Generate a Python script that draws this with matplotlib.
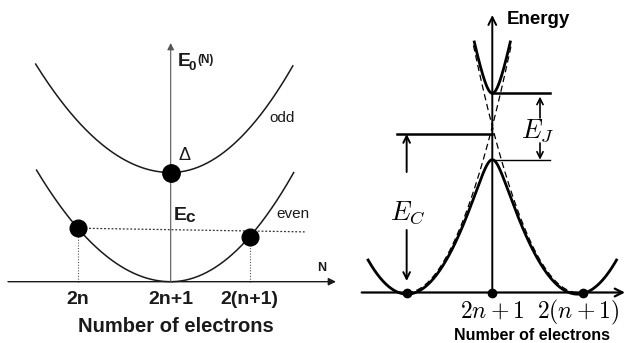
"""Charging-energy parabolas: even/odd ground states (left) and Josephson-split bands (right)."""

import numpy as np
import matplotlib.pyplot as plt

W_PX, H_PX = 626, 343

# ---- left panel: E0(N) parabolas, x in electrons from 2n+1, y in units of E_c
LEFT_TICKS = [-1.08, 0.0, 0.92]
LEFT_TICK_LABELS = ["2n", "2n+1", "2(n+1)"]
EVEN_VERTEX = 0.0
ODD_VERTEX = 2.06                 # Delta above the even minimum
EVEN_CURV = [0.865, 1.007]        # left / right curvature as drawn
ODD_CURV = [0.83, 0.998]
EVEN_RANGE = [-1.56, 1.43]
ODD_RANGE = [-1.57, 1.42]
EC_GUIDE_X = [-1.08, 1.56]
EC_GUIDE_Y = [1.01, 0.94]

# ---- right panel: x in electrons from 2n+1, y in units of E_C
RIGHT_TICKS = [0.0, 1.0]
RIGHT_TICK_LABELS = [r"$2n+1$", r"$2(n+1)$"]
RIGHT_DOTS = [-1.0, 0.0, 1.06]
PARABOLA_CENTERS = [-1.0, 1.0]
E_C = 1.0
E_J = 0.4
EC_LEVEL = 0.955
LOWER_RANGE = [-1.45, 1.45]
UPPER_RANGE = [-0.21, 0.21]


def px_to_data_left(px, py):
    return (px - 170.7) / 86.0, (281.7 - py) / 53.0


def px_to_data_right(px, py):
    return (px - 492.3) / 85.65, (292.5 - py) / 166.0


def half_parabola(x, vertex, curv):
    c = np.where(x < 0, curv[0], curv[1])
    return vertex + c * x ** 2


def arrow(ax, start, tip, style, lw, scale, color="black"):
    ax.annotate("", xy=tip, xytext=start,
                arrowprops=dict(arrowstyle=style, lw=lw, color=color,
                                mutation_scale=scale, shrinkA=0, shrinkB=0))


fig = plt.figure(figsize=(W_PX / 100, H_PX / 100), dpi=100)

# ------------------------------------------------------------------ left
axl = fig.add_axes([0, 0, 340 / W_PX, 1])
x0, y0 = px_to_data_left(0, H_PX)
x1, y1 = px_to_data_left(340, 0)
axl.set_xlim(x0, x1)
axl.set_ylim(y0, y1)
axl.axis("off")

ink = "#1a1a1a"
sans = "Liberation Sans"

# axes
arrow(axl, (px_to_data_left(8, 0)[0], 0), (px_to_data_left(336, 0)[0], 0), "-|>", 1.0, 11, ink)
arrow(axl, (0, 0), (0, px_to_data_left(0, 43)[1]), "-|>", 0.8, 10, "#555555")

xe = np.linspace(EVEN_RANGE[0], EVEN_RANGE[1], 300)
axl.plot(xe, half_parabola(xe, EVEN_VERTEX, EVEN_CURV), color=ink, lw=1.1)
xo = np.linspace(ODD_RANGE[0], ODD_RANGE[1], 300)
axl.plot(xo, half_parabola(xo, ODD_VERTEX, ODD_CURV), color=ink, lw=1.1)

# dotted guides
dot_x = [LEFT_TICKS[0], LEFT_TICKS[2]]
dot_y = list(half_parabola(np.array(dot_x), EVEN_VERTEX, EVEN_CURV))
axl.plot(EC_GUIDE_X, EC_GUIDE_Y, color="#333333", lw=0.9, ls=(0, (1.5, 1.5)))
for xd, yd in zip(dot_x, dot_y):
    axl.plot([xd, xd], [0, yd], color="#555555", lw=0.8, ls=(0, (1, 1.5)))

axl.plot(dot_x, dot_y, "o", color="black", ms=12, zorder=5)
axl.plot([0], [ODD_VERTEX], "o", color="black", ms=12.5, zorder=5)

for xt, lab in zip(LEFT_TICKS, LEFT_TICK_LABELS):
    axl.text(xt, px_to_data_left(0, 303.5)[1], lab, ha="center", va="baseline",
             fontsize=14, fontweight="bold", family=sans, color=ink)
axl.text(px_to_data_left(175.5, 0)[0], px_to_data_left(0, 332.5)[1], "Number of electrons",
         ha="center", va="baseline", fontsize=14.5, fontweight="bold", family=sans, color=ink)

# labels
axl.text(*px_to_data_left(177.5, 66), "E", fontsize=14, fontweight="bold", family=sans,
         ha="left", va="baseline", color=ink)
axl.text(*px_to_data_left(189.0, 70), "0", fontsize=9.5, fontweight="bold", family=sans,
         ha="left", va="baseline", color=ink)
axl.text(*px_to_data_left(197.5, 62.5), "(N)", fontsize=8.5, fontweight="bold", family=sans,
         ha="left", va="baseline", color=ink)
axl.text(*px_to_data_left(185, 155), "\u0394", fontsize=13, family=sans,
         ha="center", va="center", color=ink)
axl.text(*px_to_data_left(173.5, 219.5), "E", fontsize=14, fontweight="bold", family=sans,
         ha="left", va="baseline", color=ink)
axl.text(*px_to_data_left(185.5, 221.5), "c", fontsize=12.5, fontweight="bold", family=sans,
         ha="left", va="baseline", color=ink)
axl.text(*px_to_data_left(282.5, 118), "odd", fontsize=11, family=sans,
         ha="center", va="center", color=ink)
axl.text(*px_to_data_left(292.5, 214), "even", fontsize=11, family=sans,
         ha="center", va="center", color=ink)
axl.text(*px_to_data_left(322, 268), "N", fontsize=9, fontweight="bold", family=sans,
         ha="center", va="center", color=ink)

# ------------------------------------------------------------------ right
axr = fig.add_axes([340 / W_PX, 0, 1 - 340 / W_PX, 1])
x0, y0 = px_to_data_right(340, H_PX)
x1, y1 = px_to_data_right(W_PX, 0)
axr.set_xlim(x0, x1)
axr.set_ylim(y0, y1)
axr.axis("off")

arrow(axr, (px_to_data_right(361.7, 0)[0], 0), (px_to_data_right(625, 0)[0], 0), "->", 1.6, 14)
arrow(axr, (0, 0), (0, px_to_data_right(0, 15)[1]), "->", 1.4, 14)


def bands(x):
    e1 = E_C * (x - PARABOLA_CENTERS[0]) ** 2
    e2 = E_C * (x - PARABOLA_CENTERS[1]) ** 2
    mid = (e1 + e2) / 2
    split = np.sqrt(((e1 - e2) / 2) ** 2 + (E_J / 2) ** 2)
    return mid - split, mid + split


xl = np.linspace(LOWER_RANGE[0], LOWER_RANGE[1], 600)
axr.plot(xl, bands(xl)[0], color="black", lw=2.0)
xu = np.linspace(UPPER_RANGE[0], UPPER_RANGE[1], 200)
axr.plot(xu, bands(xu)[1], color="black", lw=2.0)

# bare parabolas (dashed)
xa = np.linspace(PARABOLA_CENTERS[0], UPPER_RANGE[1] + 0.01, 200)
axr.plot(xa, E_C * (xa - PARABOLA_CENTERS[0]) ** 2, color="black", lw=0.9, ls=(0, (5, 3)))
xb = np.linspace(UPPER_RANGE[0] - 0.01, PARABOLA_CENTERS[1], 200)
axr.plot(xb, E_C * (xb - PARABOLA_CENTERS[1]) ** 2, color="black", lw=0.9, ls=(0, (5, 3)))

# level lines
lvl_right = px_to_data_right(550, 0)[0]
axr.plot([0, lvl_right], [1 + E_J / 2] * 2, color="black", lw=1.8)
axr.plot([0, lvl_right], [1 - E_J / 2] * 2, color="black", lw=1.0)
axr.plot([px_to_data_right(396.7, 0)[0], 0], [EC_LEVEL] * 2, color="black", lw=1.8)

# E_C arrows
xc = PARABOLA_CENTERS[0]
arrow(axr, (xc, px_to_data_right(0, 172)[1]), (xc, EC_LEVEL), "->", 1.4, 12)
arrow(axr, (xc, px_to_data_right(0, 230)[1]), (xc, px_to_data_right(0, 281)[1]), "->", 1.4, 12)
axr.text(px_to_data_right(408, 0)[0], px_to_data_right(0, 213)[1], r"$E_C$",
         fontsize=19, ha="center", va="center", math_fontfamily="cm")

# E_J arrows
xj = px_to_data_right(540, 0)[0]
arrow(axr, (xj, px_to_data_right(0, 118)[1]), (xj, 1 + E_J / 2 - 0.02), "->", 1.2, 11)
arrow(axr, (xj, px_to_data_right(0, 143)[1]), (xj, 1 - E_J / 2), "->", 1.2, 11)
axr.text(px_to_data_right(538, 0)[0], px_to_data_right(0, 131)[1], r"$E_J$",
         fontsize=19, ha="center", va="center", math_fontfamily="cm")

axr.plot(RIGHT_DOTS, [0] * len(RIGHT_DOTS), "o", color="black", ms=6, zorder=5)

for xt, lab in zip(RIGHT_TICKS, RIGHT_TICK_LABELS):
    axr.text(xt, px_to_data_right(0, 318)[1], lab, ha="center", va="baseline",
             fontsize=17, math_fontfamily="cm")
axr.text(px_to_data_right(532, 0)[0], px_to_data_right(0, 339.5)[1], "Number of electrons",
         ha="center", va="baseline", fontsize=11.5, fontweight="bold", family=sans)
axr.text(px_to_data_right(507, 0)[0], px_to_data_right(0, 24)[1], "Energy",
         ha="left", va="baseline", fontsize=13.5, fontweight="bold", family=sans)

fig.savefig("out.png", dpi=100)
